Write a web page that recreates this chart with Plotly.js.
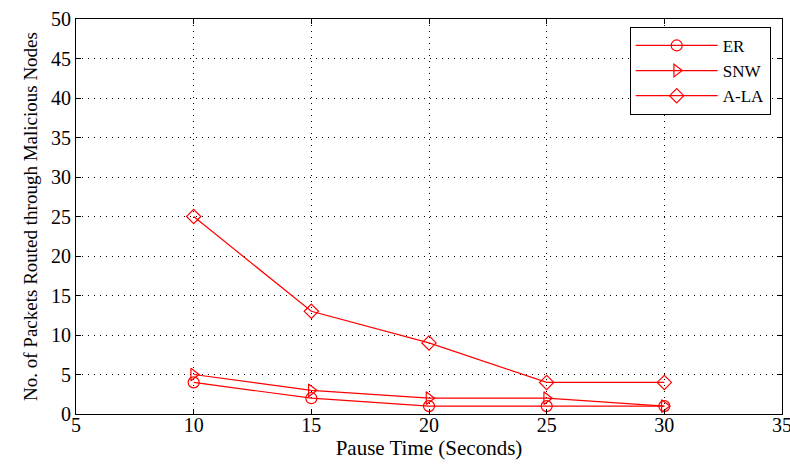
<!DOCTYPE html>
<html>
<head>
<meta charset="utf-8">
<script src="https://cdn.plot.ly/plotly-3.0.1.min.js"></script>
<style>html,body{margin:0;padding:0;background:#fff;}#chart{width:790px;height:464px;}</style>
</head>
<body>
<div id="chart"></div>
<script>
const pauseTime = [10, 15, 20, 25, 30];
const erValues = [4, 2, 1, 1, 1];
const snwValues = [5, 3, 2, 2, 1];
const alaValues = [25, 13, 9, 4, 4];
const seriesNames = ['ER', 'SNW', 'A-LA'];
const xTicks = [5, 10, 15, 20, 25, 30, 35];
const yTicks = [0, 5, 10, 15, 20, 25, 30, 35, 40, 45, 50];

const red = '#ff0000';
function series(name, y, symbol) {
  return {
    x: pauseTime, y: y, name: name, type: 'scatter', mode: 'lines+markers',
    line: {color: red, width: 1.2},
    marker: {symbol: symbol, size: 11, color: red, line: {color: red, width: 1.2}}
  };
}
const data = [
  series(seriesNames[0], erValues, 'circle-open'),
  series(seriesNames[1], snwValues, 'triangle-right-open'),
  series(seriesNames[2], alaValues, 'diamond-open')
];
const fontFam = '"Liberation Serif", "Times New Roman", serif';
const axisBase = {
  showline: true, mirror: 'ticks', linecolor: '#000', linewidth: 1,
  ticks: 'inside', ticklen: 5, tickcolor: '#000',
  showgrid: true, gridcolor: '#000', griddash: '1px,5px', gridwidth: 1,
  zeroline: false, tickfont: {family: fontFam, size: 20, color: '#000'},
  ticklabeloverflow: 'allow'
};
const layout = {
  width: 790, height: 464,
  margin: {l: 76, r: 8, t: 19, b: 50},
  paper_bgcolor: '#fff', plot_bgcolor: '#fff',
  font: {family: fontFam, color: '#000'},
  xaxis: Object.assign({}, axisBase, {
    range: [5, 35], tickmode: 'array', tickvals: xTicks,
    ticklabelstandoff: -7,
    title: {text: 'Pause Time (Seconds)', font: {family: fontFam, size: 21, color: '#000'}, standoff: 2}
  }),
  yaxis: Object.assign({}, axisBase, {
    range: [0, 50], tickmode: 'array', tickvals: yTicks,
    title: {text: 'No. of Packets Routed through Malicious Nodes', font: {family: fontFam, size: 19, color: '#000'}, standoff: 8}
  }),
  legend: {
    x: 0.984, y: 0.98, xanchor: 'right', yanchor: 'top',
    bgcolor: '#fff', bordercolor: '#000', borderwidth: 1,
    font: {family: fontFam, size: 17, color: '#000'},
    tracegroupgap: 0, itemwidth: 82
  },
  showlegend: true
};
Plotly.newPlot('chart', data, layout, {displayModeBar: false, staticPlot: true});
</script>
</body>
</html>
